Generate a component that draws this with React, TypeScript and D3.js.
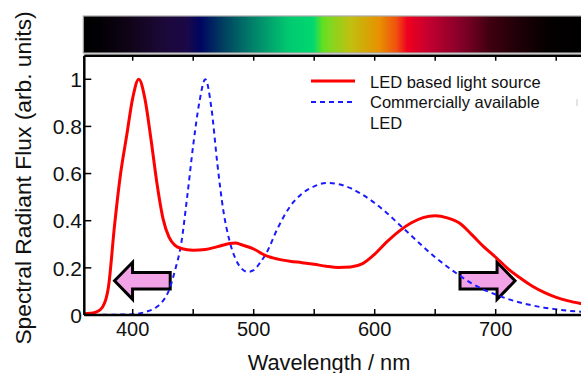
import React from 'react'
import * as d3 from 'd3'

// wavelength samples (nm) and spectra
const redNm = [360, 365, 370, 375, 380, 385, 390, 395, 400, 405, 410, 415, 420, 425, 430, 435, 440, 450, 460, 470, 480, 485, 490, 500, 510, 520, 530, 540, 550, 560, 570, 580, 590, 600, 610, 620, 630, 640, 650, 660, 670, 680, 690, 700, 710, 720, 730, 740, 750, 760, 770, 780]
const redFlux = [0.005, 0.007, 0.013, 0.033, 0.12, 0.38, 0.6, 0.76, 0.92, 1.0, 0.92, 0.75, 0.56, 0.41, 0.33, 0.295, 0.282, 0.275, 0.278, 0.29, 0.303, 0.305, 0.298, 0.28, 0.252, 0.237, 0.228, 0.222, 0.215, 0.207, 0.202, 0.204, 0.218, 0.258, 0.31, 0.355, 0.39, 0.413, 0.421, 0.412, 0.39, 0.342, 0.29, 0.245, 0.197, 0.158, 0.123, 0.096, 0.075, 0.06, 0.049, 0.04]

const blueNm = [360, 380, 400, 410, 420, 425, 430, 435, 440, 445, 450, 455, 460, 465, 470, 475, 480, 485, 490, 495, 500, 505, 510, 520, 530, 540, 550, 560, 570, 580, 590, 600, 610, 620, 630, 640, 650, 660, 670, 680, 690, 700, 710, 720, 730, 740, 750, 760, 770, 780]
const blueFlux = [0, 0.001, 0.003, 0.012, 0.035, 0.06, 0.105, 0.19, 0.3, 0.5, 0.72, 0.9, 1.0, 0.88, 0.64, 0.44, 0.315, 0.238, 0.197, 0.183, 0.19, 0.22, 0.258, 0.37, 0.46, 0.515, 0.546, 0.56, 0.555, 0.538, 0.51, 0.475, 0.433, 0.385, 0.338, 0.29, 0.245, 0.205, 0.168, 0.134, 0.108, 0.087, 0.068, 0.053, 0.041, 0.031, 0.024, 0.018, 0.014, 0.011]

// colour bar stops along the wavelength axis
const spectrumNm = [360, 372, 398, 425, 445, 456, 475, 499, 528, 549, 557, 563, 580, 604, 618, 627, 646, 673, 695, 718, 742, 770]
const spectrumColors = ['#000000', '#020004', '#100418', '#1c0838', '#1a0848', '#000560', '#004060', '#00806a', '#00c870', '#00d870', '#60e020', '#80d820', '#c0c010', '#e89000', '#f05010', '#f00020', '#c00030', '#800028', '#400010', '#200008', '#050000', '#000000']

// arrows: [tail nm, tip nm, level]
const leftArrow = [431, 385, 0.145]
const rightArrow = [670.5, 716, 0.145]

const yTicks = [0, 0.2, 0.4, 0.6, 0.8, 1]
const xMajor = [400, 500, 600, 700]
const xMinor = [450, 550, 650, 750]

const legendItems = ['LED based light source', 'Commercially available', 'LED']

const width = 581
const height = 373
const font = '"Liberation Sans", Arial, sans-serif'

const x = d3.scaleLinear().domain([360, 780]).range([84.3, 592.5])
const y = d3.scaleLinear().domain([0, 1.1]).range([315, 55.7])

const line = d3.line<[number, number]>()
  .x(d => x(d[0]))
  .y(d => y(d[1]))
  .curve(d3.curveMonotoneX)

function arrowPath (a: number[]) {
  const tail = x(a[0]), tip = x(a[1]), cy = y(a[2])
  const dir = tip > tail ? 1 : -1
  const head = 18, hh = 18.5, sh = 8.2
  const base = tip - dir * head
  return `M${tail},${cy - sh}L${base},${cy - sh}L${base},${cy - hh}L${tip},${cy}L${base},${cy + hh}L${base},${cy + sh}L${tail},${cy + sh}Z`
}

export default function App () {
  const redPts = redNm.map((d, i) => [d, redFlux[i]] as [number, number])
  const bluePts = blueNm.map((d, i) => [d, blueFlux[i]] as [number, number])
  const x0 = x.range()[0], x1 = x.range()[1]
  const yb = y(0), yt = y.range()[1]

  return (
    <svg width={width} height={height} style={{ position: 'fixed', left: 0, top: 0, background: '#fff' }} fontFamily={font}>
      <defs>
        <linearGradient id="spec" gradientUnits="userSpaceOnUse" x1={x(360)} x2={x(780)} y1={0} y2={0}>
          {spectrumNm.map((nm, i) => (
            <stop key={i} offset={(nm - 360) / 420} stopColor={spectrumColors[i]} />
          ))}
        </linearGradient>
      </defs>

      {/* colour bar */}
      <rect x={x0 - 1} y={16} width={x1 - x0 + 2} height={37} fill="url(#spec)" stroke="#a8a8a8" strokeWidth={1.2} />

      {/* arrows go under the curves */}
      <path d={arrowPath(leftArrow)} fill="#f2a3e8" stroke="#000" strokeWidth={3} strokeLinejoin="miter" />
      <path d={arrowPath(rightArrow)} fill="#f2a3e8" stroke="#000" strokeWidth={3} strokeLinejoin="miter" />

      <path d={line(bluePts) || ''} fill="none" stroke="#1a1aff" strokeWidth={2} strokeDasharray="5,4" />
      <path d={line(redPts) || ''} fill="none" stroke="#ff0000" strokeWidth={3} />

      {/* frame */}
      <g stroke="#000" strokeWidth={2.5} fill="none">
        <line x1={x0} x2={x0} y1={yt} y2={yb} />
        <line x1={x0} x2={x1} y1={yb} y2={yb} />
        <line x1={x0} x2={x1} y1={yt} y2={yt} />
        <line x1={x1} x2={x1} y1={yt} y2={yb} />
      </g>

      {/* x ticks, bottom and top, pointing inward */}
      <g stroke="#000" strokeWidth={1.5}>
        {xMajor.concat(xMinor).map(d => (
          <g key={d}>
            <line x1={x(d)} x2={x(d)} y1={yb} y2={yb - 6} />
            <line x1={x(d)} x2={x(d)} y1={yt} y2={yt + 5} />
          </g>
        ))}
        {yTicks.map(d => (
          <line key={d} x1={x0} x2={x0 + 7} y1={y(d)} y2={y(d)} />
        ))}
      </g>

      <g fontSize={20} textAnchor="middle" fill="#111">
        {xMajor.map(d => (
          <text key={d} x={x(d)} y={336}>{d}</text>
        ))}
      </g>
      <g fontSize={21} textAnchor="end" fill="#111">
        {yTicks.map(d => (
          <text key={d} x={82} y={y(d)} dy="0.37em">{d}</text>
        ))}
      </g>

      <text x={329} y={370} fontSize={21.8} textAnchor="middle" fill="#111">Wavelength / nm</text>
      <text transform="translate(31,178) rotate(-90)" fontSize={22.8} textAnchor="middle" fill="#111">
        Spectral Radiant Flux (arb. units)
      </text>

      {/* legend */}
      <line x1={311} x2={355} y1={81} y2={81} stroke="#ff0000" strokeWidth={3} />
      <line x1={311} x2={355} y1={102} y2={102} stroke="#1a1aff" strokeWidth={2} strokeDasharray="5,4" />
      <g fontSize={16.5} fill="#111">
        {legendItems.map((t, i) => (
          <text key={i} x={370} y={88 + i * 20.3}>{t}</text>
        ))}
      </g>
      <line x1={577} x2={577} y1={99} y2={106} stroke="#c8c8c8" strokeWidth={1} />
    </svg>
  )
}
